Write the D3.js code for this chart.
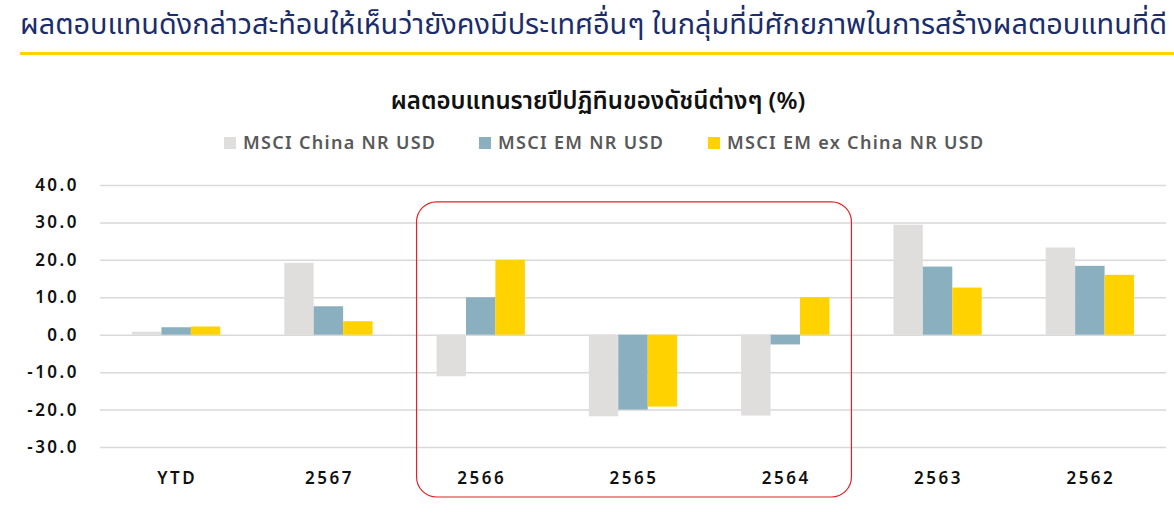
<!DOCTYPE html>
<html>
<head>
<meta charset="utf-8">
<script src="https://cdn.jsdelivr.net/npm/d3@7/dist/d3.min.js"></script>
<style>
  body { margin: 0; background: #fff; }
  text { font-family: "Noto Sans", "Noto Sans Thai", "Open Sans", sans-serif; }
</style>
</head>
<body>
<svg id="chart"></svg>
<script>
var categories = ["YTD", "2567", "2566", "2565", "2564", "2563", "2562"];
var seriesNames = ["MSCI China NR USD", "MSCI EM NR USD", "MSCI EM ex China NR USD"];
var chinaValues = [0.8, 19.2, -11.1, -21.8, -21.6, 29.4, 23.3];
var emValues = [2.0, 7.6, 10.0, -20.0, -2.6, 18.2, 18.4];
var exChinaValues = [2.2, 3.6, 20.0, -19.2, 10.0, 12.6, 16.0];
var yTicks = [-30, -20, -10, 0, 10, 20, 30, 40];
var highlighted = ["2566", "2565", "2564"];

var colors = ["#e0dddd", "#8aafbf", "#ffd200"];
var seriesValues = [chinaValues, emValues, exChinaValues];

var svg = d3.select("#chart")
  .attr("width", 1174)
  .attr("height", 519)

var margin = {top: 185, right: 8, bottom: 72, left: 100},
    width = 1174 - margin.left - margin.right,
    height = 519 - margin.top - margin.bottom;

// title
var title = svg.append("text")
  .attr("x", 20)
  .attr("y", 34)
  .attr("fill", "#1b2d6b")
  .style("font-size", "26px")
  .text("ผลตอบแทนดังกล่าวสะท้อนให้เห็นว่ายังคงมีประเทศอื่นๆ ในกลุ่มที่มีศักยภาพในการสร้างผลตอบแทนที่ดี")
// squeeze title to the same width as the original
var tw = title.node().getComputedTextLength()
title.style("font-size", (26 * 1148 / tw) + "px")

svg.append("rect")
  .attr("x", 20).attr("y", 52)
  .attr("width", 1154).attr("height", 3)
  .attr("fill", "#ffd200")

svg.append("text")
  .attr("x", 598)
  .attr("y", 109)
  .attr("text-anchor", "middle")
  .attr("fill", "#111")
  .style("font-size", "24px")
  .style("font-weight", "600")
  .text("ผลตอบแทนรายปีปฏิทินของดัชนีต่างๆ (%)")

// legend
var legendX = [224, 479, 708]
var legend = svg.selectAll(".legend")
  .data(seriesNames)
  .enter().append("g")
  .attr("transform", function(d, i) { return "translate(" + legendX[i] + ",137)" })
legend.append("rect")
  .attr("width", 12).attr("height", 12)
  .attr("fill", function(d, i) { return colors[i] })
legend.append("text")
  .attr("x", 19)
  .attr("y", 12)
  .attr("fill", "#595959")
  .style("font-size", "18px")
  .style("font-weight", "600")
  .style("letter-spacing", "1.3px")
  .text(function(d) { return d })

var x = d3.scaleBand()
  .domain(categories)
  .range([0, width])
  .paddingInner(0.42)
  .paddingOuter(0.21)

var x1 = d3.scaleBand()
  .domain(d3.range(seriesNames.length))
  .range([0, x.bandwidth()])

var y = d3.scaleLinear()
  .domain([-30, 40])
  .range([height, 0])

var fmt = function(d) { return d3.format(".1f")(d).replace("−", "-") }

var g = svg.append("g")
  .attr("transform", "translate(" + margin.left + "," + margin.top + ")")

// gridlines
g.append("g")
  .call(d3.axisLeft(y).tickValues(yTicks).tickSize(-width).tickFormat(""))
  .call(function(a) {
    a.select(".domain").remove()
    a.selectAll("line").attr("stroke", "#d9d9d9").attr("stroke-width", 1.5)
  })

// y labels
g.append("g")
  .call(d3.axisLeft(y).tickValues(yTicks).tickSize(0).tickPadding(21).tickFormat(fmt))
  .call(function(a) {
    a.select(".domain").remove()
    a.selectAll("text")
      .attr("fill", "#111")
      .style("font-size", "17px")
      .style("font-weight", "600")
      .style("font-family", "'Noto Sans', sans-serif")
      .style("letter-spacing", "2.5px")
  })

// x labels
g.append("g")
  .attr("transform", "translate(0," + height + ")")
  .call(d3.axisBottom(x).tickSize(0).tickPadding(25))
  .call(function(a) {
    a.select(".domain").remove()
    a.selectAll("text")
      .attr("fill", "#111")
      .attr("dx", "1px")
      .style("font-size", "17px")
      .style("font-weight", "600")
      .style("font-family", "'Noto Sans', sans-serif")
      .style("letter-spacing", "2.5px")
  })

var groups = g.selectAll(".grp")
  .data(categories)
  .enter().append("g")
  .attr("transform", function(d) { return "translate(" + x(d) + ",0)" })

groups.selectAll("rect")
  .data(function(d, i) {
    return seriesValues.map(function(vals, s) { return {s: s, v: vals[i]} })
  })
  .enter().append("rect")
  .attr("x", function(d) { return x1(d.s) })
  .attr("width", x1.bandwidth())
  .attr("y", function(d) { return y(Math.max(0, d.v)) })
  .attr("height", function(d) { return Math.abs(y(d.v) - y(0)) })
  .attr("fill", function(d) { return colors[d.s] })

// red highlight box round 2566-2564
var step = x.step()
var bx0 = x(highlighted[0]) - step * 0.21 + 12
var bx1 = x(highlighted[highlighted.length - 1]) + x.bandwidth() + step * 0.21 - 10
g.append("rect")
  .attr("x", bx0)
  .attr("y", y(35.5))
  .attr("width", bx1 - bx0)
  .attr("height", height + 50 - y(35.5))
  .attr("rx", 20)
  .attr("fill", "none")
  .attr("stroke", "#e32228")
  .attr("stroke-width", 1.2)
</script>
</body>
</html>
